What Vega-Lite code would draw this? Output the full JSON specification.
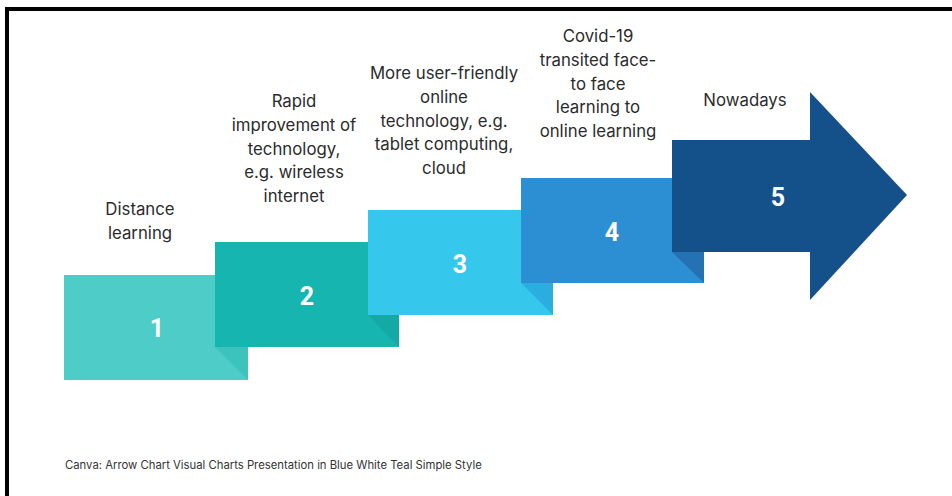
{
  "$schema": "https://vega.github.io/schema/vega-lite/v6.json",
  "width": 952,
  "height": 496,
  "autosize": {"type": "fit", "contains": "padding"},
  "padding": 0,
  "background": "white",
  "config": {"view": {"stroke": null}},
  "datasets": {
    "frame": [
      {"part": "top", "x": 5, "x2": 952, "y": 7, "y2": 11},
      {"part": "left", "x": 5, "x2": 9, "y": 7, "y2": 496}
    ],
    "steps": [
      {"step": "1", "x": 64, "x2": 248, "y": 275, "y2": 380},
      {"step": "2", "x": 215, "x2": 399, "y": 242, "y2": 347},
      {"step": "3", "x": 368, "x2": 553, "y": 210, "y2": 315},
      {"step": "4", "x": 521, "x2": 704, "y": 178, "y2": 283},
      {"step": "5", "x": 672, "x2": 810, "y": 140, "y2": 252}
    ],
    "folds": [
      {"step": "1", "x": 215, "y": 347, "y2": 347},
      {"step": "1", "x": 248, "y": 347, "y2": 380},
      {"step": "2", "x": 368, "y": 315, "y2": 315},
      {"step": "2", "x": 399, "y": 315, "y2": 347},
      {"step": "3", "x": 521, "y": 283, "y2": 283},
      {"step": "3", "x": 553, "y": 283, "y2": 315},
      {"step": "4", "x": 672, "y": 252, "y2": 252},
      {"step": "4", "x": 704, "y": 252, "y2": 283}
    ],
    "head": [
      {"step": "5", "x": 810, "y": 92, "y2": 300},
      {"step": "5", "x": 907, "y": 195, "y2": 195}
    ],
    "numbers": [
      {"step": "1", "x": 157, "y": 337},
      {"step": "2", "x": 307, "y": 305},
      {"step": "3", "x": 460, "y": 273},
      {"step": "4", "x": 612, "y": 241},
      {"step": "5", "x": 778, "y": 206}
    ],
    "labels": [
      {"step": "1", "x": 140, "y": 215, "label": "Distance\nlearning"},
      {"step": "2", "x": 294, "y": 107, "label": "Rapid\nimprovement of\ntechnology,\ne.g. wireless\ninternet"},
      {"step": "3", "x": 444, "y": 79, "label": "More user-friendly\nonline\ntechnology, e.g.\ntablet computing,\ncloud"},
      {"step": "4", "x": 598, "y": 42, "label": "Covid-19\ntransited face-\nto face\nlearning to\nonline learning"},
      {"step": "5", "x": 745, "y": 106, "label": "Nowadays"}
    ],
    "caption": [
      {"x": 65, "y": 469, "text": "Canva: Arrow Chart Visual Charts Presentation in Blue White Teal Simple Style"}
    ]
  },
  "layer": [
    {
      "data": {"name": "frame"},
      "mark": {"type": "rect", "color": "black"},
      "encoding": {
        "x": {"field": "x", "type": "quantitative", "scale": {"domain": [0, 952]}, "axis": null},
        "x2": {"field": "x2"},
        "y": {"field": "y", "type": "quantitative", "scale": {"domain": [0, 496], "reverse": true}, "axis": null},
        "y2": {"field": "y2"}
      }
    },
    {
      "data": {"name": "steps"},
      "mark": {"type": "rect"},
      "encoding": {
        "x": {"field": "x", "type": "quantitative", "scale": {"domain": [0, 952]}, "axis": null},
        "x2": {"field": "x2"},
        "y": {"field": "y", "type": "quantitative", "scale": {"domain": [0, 496], "reverse": true}, "axis": null},
        "y2": {"field": "y2"},
        "color": {"field": "step", "type": "nominal", "legend": null,
          "scale": {"domain": ["1", "2", "3", "4", "5"], "range": ["#4ecdc8", "#17b5b0", "#36c8ec", "#2d8fd3", "#14508a"]}}
      }
    },
    {
      "data": {"name": "folds"},
      "mark": {"type": "area", "orient": "vertical"},
      "encoding": {
        "x": {"field": "x", "type": "quantitative", "scale": {"domain": [0, 952]}, "axis": null},
        "y": {"field": "y", "type": "quantitative", "scale": {"domain": [0, 496], "reverse": true}, "axis": null},
        "y2": {"field": "y2"},
        "fill": {"field": "step", "type": "nominal", "legend": null,
          "scale": {"domain": ["1", "2", "3", "4"], "range": ["#3cc3bd", "#15a9a6", "#2aaee0", "#2472b3"]}},
        "detail": {"field": "step"}
      }
    },
    {
      "data": {"name": "head"},
      "mark": {"type": "area", "orient": "vertical", "color": "#14508a"},
      "encoding": {
        "x": {"field": "x", "type": "quantitative", "scale": {"domain": [0, 952]}, "axis": null},
        "y": {"field": "y", "type": "quantitative", "scale": {"domain": [0, 496], "reverse": true}, "axis": null},
        "y2": {"field": "y2"}
      }
    },
    {
      "data": {"name": "numbers"},
      "mark": {"type": "text", "color": "white", "font": "Roboto", "fontWeight": "bold", "fontSize": 25, "align": "center", "baseline": "alphabetic"},
      "encoding": {
        "x": {"field": "x", "type": "quantitative", "scale": {"domain": [0, 952]}, "axis": null},
        "y": {"field": "y", "type": "quantitative", "scale": {"domain": [0, 496], "reverse": true}, "axis": null},
        "text": {"field": "step"}
      }
    },
    {
      "data": {"name": "labels"},
      "mark": {"type": "text", "color": "#2b2b2b", "font": "Inter", "fontSize": 16.8, "align": "center", "baseline": "alphabetic", "lineBreak": "\n", "lineHeight": 23.8},
      "encoding": {
        "x": {"field": "x", "type": "quantitative", "scale": {"domain": [0, 952]}, "axis": null},
        "y": {"field": "y", "type": "quantitative", "scale": {"domain": [0, 496], "reverse": true}, "axis": null},
        "text": {"field": "label"}
      }
    },
    {
      "data": {"name": "caption"},
      "mark": {"type": "text", "color": "#333333", "font": "Inter", "fontSize": 11.3, "align": "left", "baseline": "alphabetic"},
      "encoding": {
        "x": {"field": "x", "type": "quantitative", "scale": {"domain": [0, 952]}, "axis": null},
        "y": {"field": "y", "type": "quantitative", "scale": {"domain": [0, 496], "reverse": true}, "axis": null},
        "text": {"field": "text"}
      }
    }
  ],
  "resolve": {"scale": {"color": "independent", "fill": "independent"}}
}
